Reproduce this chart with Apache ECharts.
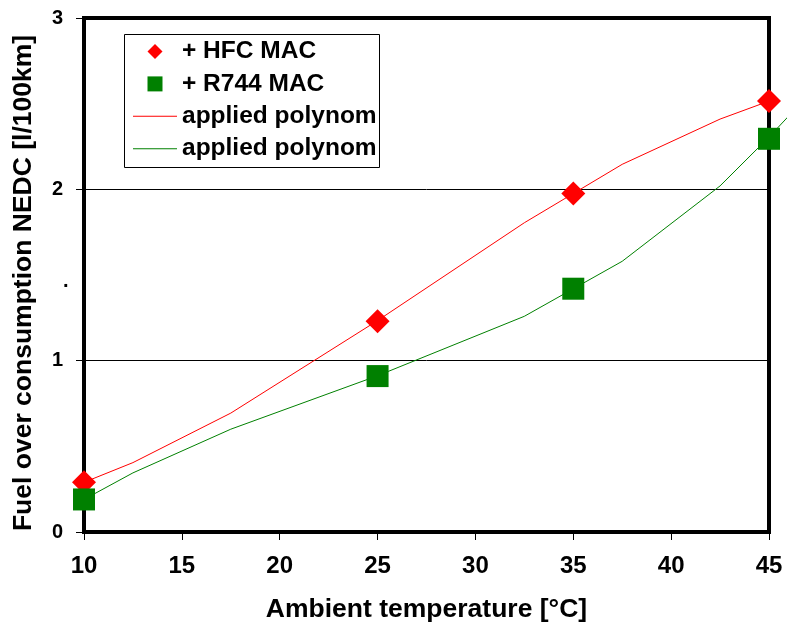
<!DOCTYPE html>
<html>
<head>
<meta charset="utf-8">
<script src="https://cdn.jsdelivr.net/npm/echarts@6/dist/echarts.min.js"></script>
<style>html,body{margin:0;padding:0;background:#fff}#c{width:787px;height:624px}</style>
</head>
<body>
<div id="c"></div>
<script>
var FONT = "'Liberation Sans', Arial, sans-serif";
var xTicks = [10, 15, 20, 25, 30, 35, 40, 45];
var yTicks = [0, 1, 2, 3];
var hfcX = [10, 25, 35, 45];
var hfcY = [0.29, 1.23, 1.975, 2.515];
var r744X = [10, 25, 35, 45];
var r744Y = [0.19, 0.91, 1.42, 2.295];
var polyHfcX = [10, 12.5, 17.5, 25, 32.5, 37.5, 42.5, 45];
var polyHfcY = [0.29, 0.405, 0.694, 1.234, 1.805, 2.146, 2.41, 2.515];
var polyR744X = [10, 12.5, 17.5, 25, 32.5, 37.5, 42.5, 45, 47.5];
var polyR744Y = [0.19, 0.345, 0.60, 0.912, 1.259, 1.58, 2.02, 2.305, 2.61];

function pairs(xs, ys) { return xs.map(function (x, i) { return [x, ys[i]]; }); }

var W = 787, GL = 84, GR = 18;
var X_MIN = 10, X_MAX = 45;
// second (overflow) grid spans to the right canvas edge with the same scale
var X_MAX_OVER = X_MIN + (W - GL) * (X_MAX - X_MIN) / (W - GL - GR);

var LINE_ICON = 'path://M0,0H44V1H0Z';
var chart = echarts.init(document.getElementById('c'), null, {renderer: 'canvas'});
chart.setOption({
  animation: false,
  backgroundColor: '#fff',
  grid: [
    {left: GL, right: GR, top: 18, bottom: 92, show: true, borderColor: '#000', borderWidth: 4, backgroundColor: 'transparent',
      containLabel: false, outerBoundsMode: 'none'},
    {left: GL, right: 0, top: 18, bottom: 92, show: false, containLabel: false, outerBoundsMode: 'none'}
  ],
  legend: {
    orient: 'vertical', left: 133, top: 39,
    padding: 0,
    itemWidth: 44, itemHeight: 15, itemGap: 7.4,
    symbolKeepAspect: true,
    textStyle: {fontFamily: FONT, fontWeight: 'bold', fontSize: 24.5, color: '#000'},
    data: [
      {name: '+ HFC MAC', icon: 'path://M0,-1L1,0L0,1L-1,0Z'},
      {name: '+ R744 MAC', icon: 'path://M0,0H1V1H0Z'},
      {name: 'polyHfc', icon: LINE_ICON},
      {name: 'polyR744', icon: LINE_ICON}
    ],
    formatter: function (n) { return n.indexOf('poly') === 0 ? 'applied polynom' : n; }
  },
  xAxis: [{
    type: 'value', min: X_MIN, max: X_MAX, interval: 5, gridIndex: 0,
    name: 'Ambient temperature [°C]', nameLocation: 'middle', nameGap: 64,
    nameTextStyle: {fontFamily: FONT, fontWeight: 'bold', fontSize: 26.5, color: '#000'},
    axisLine: {show: true, onZero: false, lineStyle: {color: '#000', width: 4}},
    axisTick: {show: true, inside: false, length: 8, lineStyle: {color: '#000', width: 1}},
    axisLabel: {margin: 22, fontFamily: FONT, fontWeight: 'bold', fontSize: 24, color: '#000',
      formatter: function (v) { return xTicks.indexOf(v) >= 0 ? String(v) : ''; }},
    splitLine: {show: false}
  }, {
    type: 'value', min: X_MIN, max: X_MAX_OVER, gridIndex: 1, show: false
  }],
  yAxis: [{
    type: 'value', min: 0, max: 3, interval: 1, gridIndex: 0,
    name: 'Fuel over consumption NEDC [l/100km]', nameLocation: 'middle', nameGap: 47, nameRotate: 90,
    nameTextStyle: {fontFamily: FONT, fontWeight: 'bold', fontSize: 26.5, color: '#000', padding: [0, 16, 0, 0]},
    axisLine: {show: true, onZero: false, lineStyle: {color: '#000', width: 4}},
    axisTick: {show: true, inside: false, length: 8, lineStyle: {color: '#000', width: 1}},
    axisLabel: {margin: 21, fontFamily: FONT, fontWeight: 'bold', fontSize: 20, color: '#000',
      formatter: function (v) { return yTicks.indexOf(v) >= 0 ? String(v) : ''; }},
    splitLine: {show: true, lineStyle: {color: '#000', width: 1}}
  }, {
    type: 'value', min: 0, max: 3, gridIndex: 1, show: false
  }],
  series: [
    {name: 'polyHfc', type: 'line', xAxisIndex: 0, yAxisIndex: 0, data: pairs(polyHfcX, polyHfcY), symbol: 'none', showSymbol: false,
      lineStyle: {color: '#ff0000', width: 1}, itemStyle: {color: '#ff0000'}, z: 3},
    {name: 'polyR744', type: 'line', xAxisIndex: 1, yAxisIndex: 1, data: pairs(polyR744X, polyR744Y), symbol: 'none', showSymbol: false,
      lineStyle: {color: '#008000', width: 1}, itemStyle: {color: '#008000'}, z: 3},
    {name: '+ HFC MAC', type: 'scatter', xAxisIndex: 0, yAxisIndex: 0, data: pairs(hfcX, hfcY), symbol: 'diamond', symbolSize: 24,
      itemStyle: {color: '#ff0000', opacity: 1}, clip: false, z: 4},
    {name: '+ R744 MAC', type: 'scatter', xAxisIndex: 0, yAxisIndex: 0, data: pairs(r744X, r744Y), symbol: 'rect', symbolSize: 22,
      itemStyle: {color: '#008000', opacity: 1}, clip: false, z: 4}
  ],
  graphic: [
    {type: 'rect', left: 124, top: 34, z: 0, shape: {width: 255, height: 133}, style: {fill: '#fff', stroke: '#000', lineWidth: 1}},
    {type: 'text', left: 63, top: 271, style: {text: '.', fontFamily: FONT, fontWeight: 'bold', fontSize: 20, fill: '#000'}}
  ]
});
</script>
</body>
</html>
